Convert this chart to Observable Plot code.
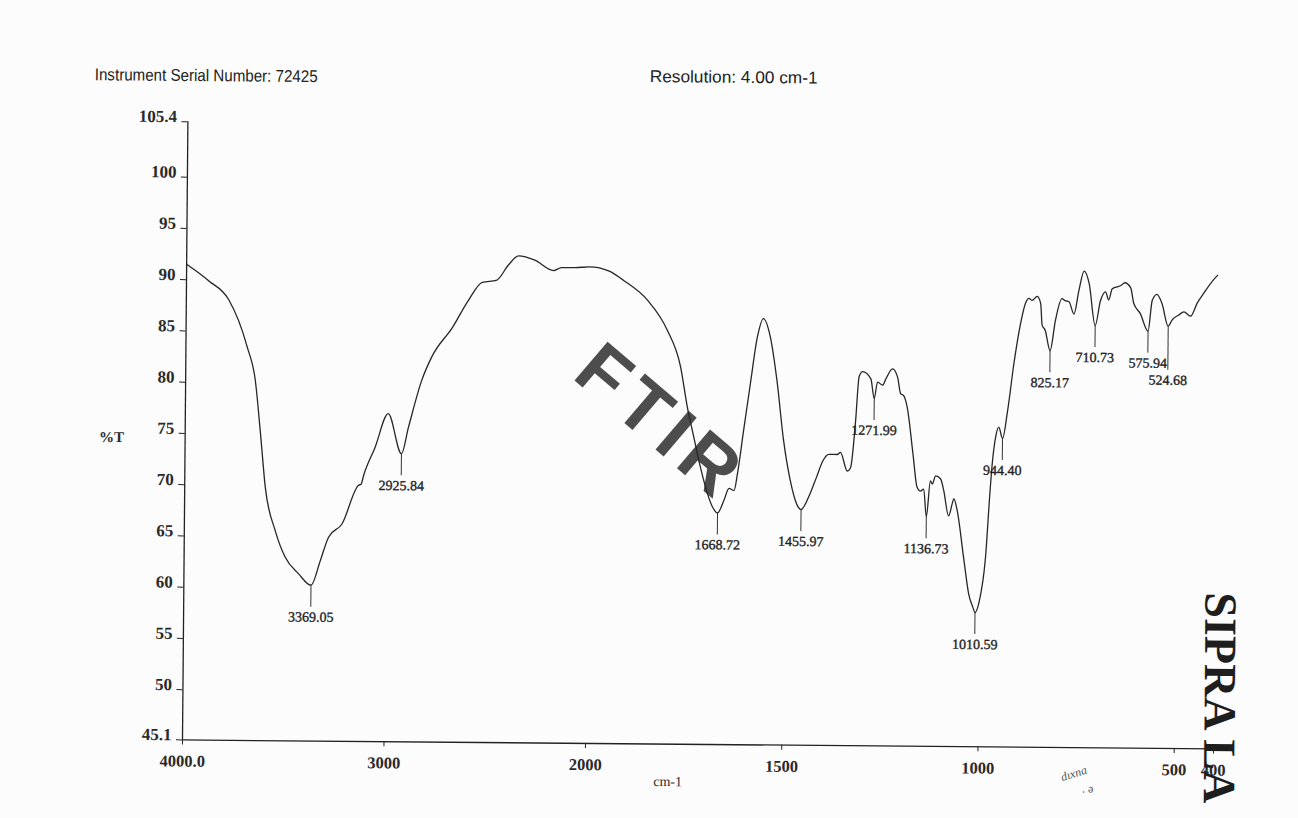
<!DOCTYPE html>
<html>
<head>
<meta charset="utf-8">
<script src="https://cdn.jsdelivr.net/npm/d3@7"></script>
<script src="https://cdn.jsdelivr.net/npm/@observablehq/plot@0.6"></script>
<style>
  html, body { margin: 0; padding: 0; background: #fcfcfc; overflow: hidden; }
  #page { position: relative; width: 1298px; height: 818px; transform-origin: 182px 739.4px; transform: rotate(0.5deg); }
  #hdr { position: relative; height: 100px; }
  #hdr span { position: absolute; white-space: nowrap; line-height: 20px; color: #222; transform-origin: left center; }
  #serial { left: 89px; top: 66px; font-family: "Liberation Sans Narrow", "Liberation Sans", Arial, sans-serif; font-size: 17px; }
  #res { left: 644px; top: 63px; font-family: "Liberation Sans", Arial, sans-serif; font-size: 17px; }
  #chart svg { display: block; }
</style>
</head>
<body>
<div id="page">
  <div id="hdr">
    <span id="serial">Instrument Serial Number: 72425</span>
    <span id="res">Resolution: 4.00 cm-1</span>
  </div>
  <div id="chart"></div>
</div>
<script>
// ---- data ----
const wavenumber = [
  4000, 3889, 3790, 3696, 3654, 3626, 3600, 3549, 3498, 3431, 3369.05, 3324, 3284, 3218, 3137, 3125, 3112, 3057,
  2993, 2925.84, 2892, 2828, 2779, 2677, 2601, 2532, 2462, 2403, 2353, 2272, 2179, 2140, 2074, 2000, 1950, 1913,
  1852, 1801, 1766, 1748, 1731, 1713, 1695, 1682, 1668.72, 1653, 1640, 1627, 1619, 1604, 1588, 1571, 1556, 1538,
  1520, 1502, 1484, 1467, 1455.97, 1434, 1417, 1401, 1386, 1365, 1357, 1339, 1331, 1319, 1311, 1302, 1281, 1271.99,
  1264, 1251, 1243, 1226, 1213, 1205, 1197, 1188, 1172, 1161, 1152, 1144, 1136.73, 1127, 1122, 1114, 1101, 1093,
  1080, 1071, 1067, 1058, 1041, 1027, 1016, 1010.59, 1000, 985, 975, 970, 962, 954, 944.40, 932, 917, 901, 889,
  880, 872, 859, 850, 846, 838, 825.17, 812, 796, 788, 778, 765, 753, 740, 727, 710.73, 698, 685, 677, 668, 655,
  647, 636, 621, 613, 596, 575.94, 566, 554, 541, 524.68, 515, 498, 485, 468, 451, 434, 405, 400
];
const transmittance = [
  91.5, 89.9, 88.1, 83.5, 80.2, 75.0, 69.8, 65.6, 63.0, 61.4, 60.3, 62.7, 65.0, 66.3, 70.1, 70.2, 71.1, 73.8,
  77.1, 73.2, 75.8, 80.4, 82.7, 85.6, 88.2, 90.0, 90.2, 91.7, 92.6, 92.2, 91.2, 91.5, 91.5, 91.6, 91.2, 90.3,
  88.4, 85.5, 81.9, 78.0, 75.1, 72.1, 69.6, 68.3, 67.7, 68.9, 70.1, 69.9, 71.5, 75.8, 80.3, 84.9, 86.7, 84.9,
  80.6, 74.8, 70.9, 68.6, 68.1, 69.6, 71.3, 72.9, 73.5, 73.5, 73.7, 71.9, 72.2, 76.8, 81.1, 81.6, 80.9, 79.0,
  80.6, 80.3, 80.9, 81.9, 81.1, 79.5, 79.3, 78.2, 73.6, 70.4, 70.0, 70.2, 67.5, 71.0, 70.7, 71.5, 71.2, 70.1,
  67.6, 68.8, 69.3, 68.1, 63.6, 60.0, 58.7, 58.2, 59.3, 63.6, 70.0, 72.7, 75.3, 76.3, 75.2, 77.9, 82.5, 86.4, 88.4,
  88.9, 88.7, 89.1, 88.4, 86.3, 85.8, 83.8, 86.8, 88.9, 88.7, 88.6, 87.4, 89.7, 91.6, 90.4, 86.3, 88.7, 89.6, 88.8, 89.9, 90.1,
  90.2, 90.5, 90.0, 88.5, 87.5, 85.8, 88.8, 89.4, 88.5, 86.3, 86.9, 87.4, 87.7, 87.3, 88.6, 89.6, 91.1, 91.3
];
const peakWavenumbers = [3369.05, 2925.84, 1668.72, 1455.97, 1271.99, 1136.73, 1010.59, 944.40, 825.17, 710.73, 575.94, 524.68];
const peakTransmittance = [60.3, 73.2, 67.7, 68.1, 79.0, 67.5, 58.2, 75.2, 83.8, 86.3, 85.8, 86.3];
const peakLabels = ["3369.05", "2925.84", "1668.72", "1455.97", "1271.99", "1136.73", "1010.59", "944.40", "825.17", "710.73", "575.94", "524.68"];
const xTicks = [4000, 3000, 2000, 1500, 1000, 500, 400];
const xTickLabels = ["4000.0", "3000", "2000", "1500", "1000", "500", "400"];
const yTicks = [45.1, 50, 55, 60, 65, 70, 75, 80, 85, 90, 95, 100, 105.4];
const yTickLabels = ["45.1", "50", "55", "60", "65", "70", "75", "80", "85", "90", "95", "100", "105.4"];

// ---- layout ----
const W = 1298, H = 718;
const mL = 182, mR = 85, mT = 21.3, mB = 78.6;
const xScale = {type: "linear", domain: [4000, 2000, 400], range: [mL, 585, W - mR]};
const yScale = {domain: [45.1, 105.4]};
const pxPerUnit = (H - mT - mB) / (105.4 - 45.1);

const spectrum = wavenumber.map((w, i) => ({wn: w, T: transmittance[i]}));

// peak labels: constant offset below the minimum, pushed down when two labels collide
const probe = Plot.plot({width: W, height: H, marginLeft: mL, marginRight: mR, marginTop: mT, marginBottom: mB, x: xScale, y: yScale, marks: [Plot.dot([[4000, 50]])]});
const sx = probe.scale("x");
const peaks = peakWavenumbers.map((w, i) => ({wn: w, T: peakTransmittance[i], label: peakLabels[i], off: 32}));
const sorted = [...peaks].sort((a, b) => sx.apply(a.wn) - sx.apply(b.wn));
const screenY = p => -p.T * pxPerUnit + p.off;
for (let i = 1; i < sorted.length; i++) {
  const a = sorted[i - 1], b = sorted[i];
  const dxp = Math.abs(sx.apply(a.wn) - sx.apply(b.wn));
  const ya = screenY(a), yb = screenY(b);
  if (dxp < 48 && Math.abs(ya - yb) < 15) b.off += (ya + 17) - yb;
}

const serif = "'Liberation Serif', 'Times New Roman', serif";

const chart = Plot.plot({
  width: W, height: H,
  marginLeft: mL, marginRight: mR, marginTop: mT, marginBottom: mB,
  x: xScale,
  y: yScale,
  style: {background: "transparent", fontFamily: serif, color: "#222", overflow: "visible"},
  marks: [
    Plot.text(["FTIR"], {frameAnchor: "middle", dx: -40, dy: -12, rotate: 40, fontSize: 74, fontWeight: "bold",
      fontFamily: "'Liberation Sans', Arial, sans-serif", fill: "#3a3a3a", fillOpacity: 0.9}),
    Plot.ruleX([4000], {stroke: "#222", strokeWidth: 1.3}),
    Plot.ruleY([45.1], {stroke: "#222", strokeWidth: 1.3}),
    Plot.axisY(yTicks, {tickSize: 6, fill: "none", stroke: "#222", label: null}),
    Plot.axisY(yTicks, {tickSize: 6, tickPadding: 5, stroke: "none", dy: -5, fontSize: 17, fontWeight: "bold",
      fill: "#2a2a2a", label: null, tickFormat: d => yTickLabels[yTicks.indexOf(d)]}),
    Plot.axisX(xTicks, {tickSize: 5, fill: "none", stroke: "#222", label: null}),
    Plot.axisX(xTicks, {tickSize: 5, tickPadding: 10, stroke: "none", fontSize: 16.5, fontWeight: "bold",
      fill: "#2a2a2a", label: null, tickFormat: d => xTickLabels[xTicks.indexOf(d)]}),
    Plot.line(spectrum, {x: "wn", y: "T", stroke: "#262626", strokeWidth: 1.3, curve: "monotone-x"}),
    Plot.ruleX(peaks, {x: "wn", y1: "T", y2: d => d.T - (d.off - 10) / pxPerUnit, stroke: "#333", strokeWidth: 1}),
    Plot.text(peaks, {x: "wn", y: d => d.T - d.off / pxPerUnit, text: "label", fontSize: 14, fill: "#222",
      stroke: "#222", strokeWidth: 0.35}),
    Plot.text(["%T"], {frameAnchor: "left", dx: -86, dy: 7, fontSize: 15, fontWeight: "bold", fill: "#2a2a2a"}),
    Plot.text(["cm-1"], {frameAnchor: "bottom", dx: -30, dy: 42, fontSize: 14, fill: "#2a2a2a"}),
    Plot.text(["SIPRA LA"], {frameAnchor: "middle", dx: 521, dy: 258, rotate: 90, fontSize: 46, fontWeight: "bold", fill: "#1e1e1e"}),
    Plot.text(["dıxna"], {frameAnchor: "middle", dx: 376, dy: 335, rotate: -18, fontSize: 12, fontStyle: "italic", fill: "#555"}),
    Plot.text([". ə"], {frameAnchor: "middle", dx: 390, dy: 350, fontSize: 12, fill: "#555"})
  ]
});
document.getElementById("chart").appendChild(chart);

// stamp letter spacing
d3.select(chart).selectAll("text").filter(function () { return this.textContent === "FTIR"; }).attr("letter-spacing", 8);

// fit header widths to the scanned header
const fit = (id, w) => { const el = document.getElementById(id); const r = el.getBoundingClientRect().width; el.style.transform = `scaleX(${w / r})`; };
fit("serial", 223);
fit("res", 168);
</script>
</body>
</html>
